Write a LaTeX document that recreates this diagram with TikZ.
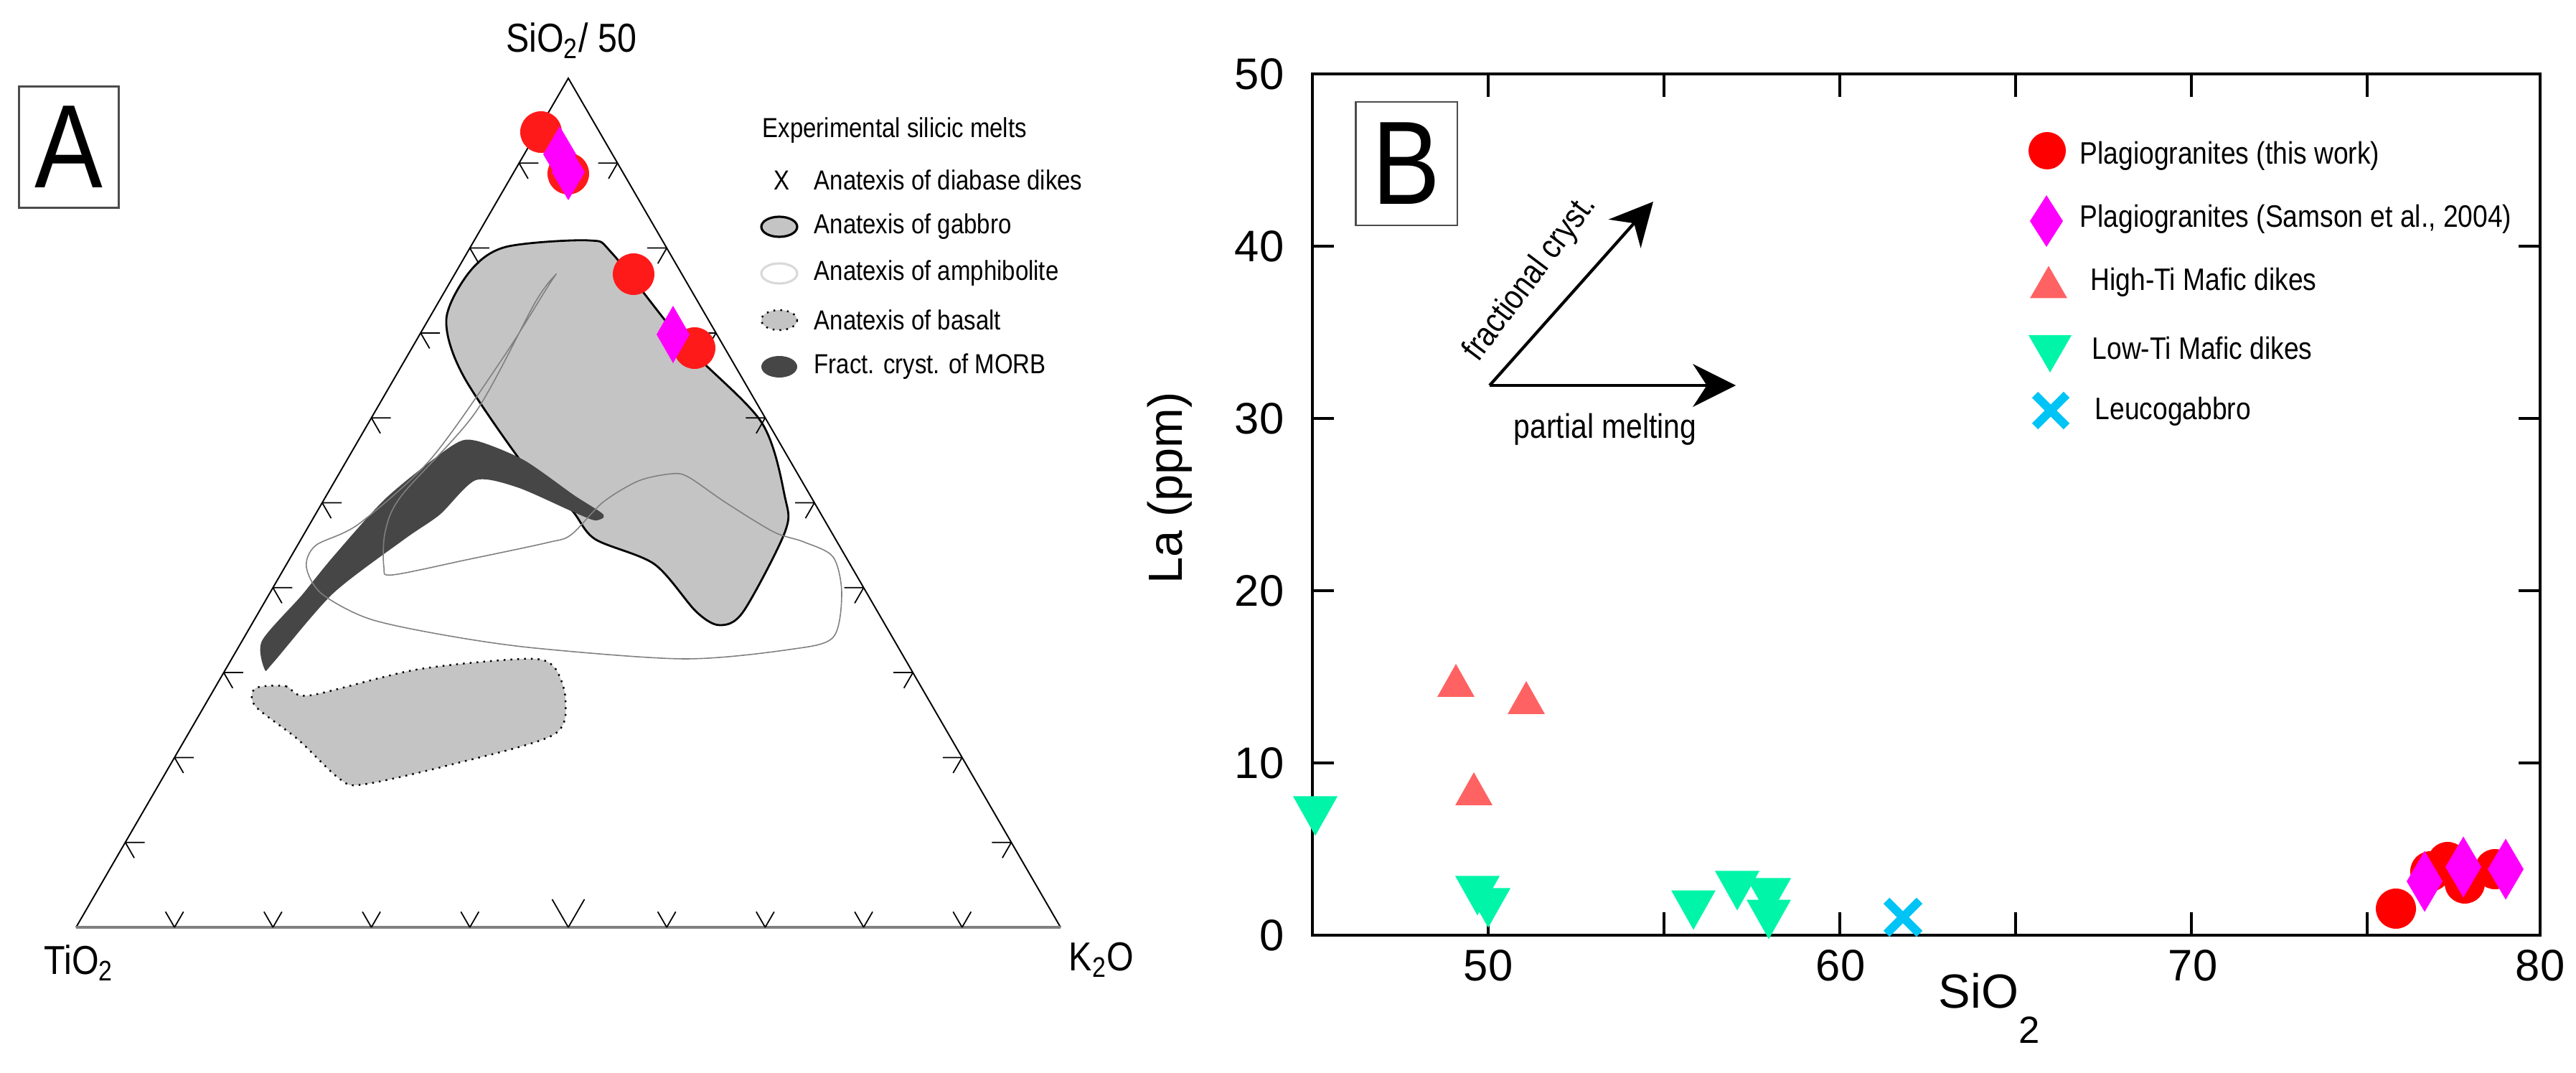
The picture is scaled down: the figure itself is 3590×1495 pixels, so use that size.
\documentclass[tikz,border=0pt]{standalone}
\usepackage{fontspec}
\setmainfont{Liberation Sans}
\newfontfamily\cnd{Liberation Sans}[FakeStretch=0.86]
\usetikzlibrary{arrows.meta,calc}
\definecolor{redA}{HTML}{FF1A1A}
\definecolor{redB}{HTML}{FF0000}
\definecolor{magB}{HTML}{FF00FF}
\definecolor{salB}{HTML}{FF6262}
\definecolor{grnB}{HTML}{00F5A8}
\definecolor{bluB}{HTML}{00C4F5}
\definecolor{gfill}{HTML}{C4C4C4}
\definecolor{dfill}{HTML}{464646}
\newcommand\mkCi[4]{\fill[#1] (#2,#3) circle (#4);}
\newcommand\mkDi[5]{\fill[#1] ({#2},{#3-#5/2}) -- ({#2+#4/2},{#3}) -- ({#2},{#3+#5/2}) -- ({#2-#4/2},{#3}) -- cycle;}
\newcommand\mkTU[4]{\fill[salB] ({#1},{#2-#4/2}) -- ({#1+#3/2},{#2+#4/2}) -- ({#1-#3/2},{#2+#4/2}) -- cycle;}
\newcommand\mkTD[4]{\fill[grnB] ({#1},{#2+#4/2}) -- ({#1+#3/2},{#2-#4/2}) -- ({#1-#3/2},{#2-#4/2}) -- cycle;}
\newcommand\mkXX[3]{\draw[bluB,line width=3.4pt] ({#1-#3/2},{#2-#3/2}) -- ({#1+#3/2},{#2+#3/2}) ({#1-#3/2},{#2+#3/2}) -- ({#1+#3/2},{#2-#3/2});}
\begin{document}
\begin{tikzpicture}[x=0.01cm,y=-0.01cm,
  lgA/.style={font=\cnd\fontsize{10.9}{12}\selectfont,anchor=west,inner sep=0},
  lgB/.style={font=\cnd\fontsize{12.3}{13}\selectfont,anchor=west,inner sep=0},
  tlab/.style={font=\fontsize{17.5}{19}\selectfont,inner sep=0},
  vlab/.style={font=\cnd\fontsize{16}{18}\selectfont,inner sep=0},
  big/.style={font=\cnd\fontsize{47}{50}\selectfont,inner sep=0},
  tk/.style={line width=0.5pt},
  ax/.style={line width=1.15pt}]
\path[use as bounding box] (0,0) rectangle (3590,1495);
% ---------- Panel A ----------
\coordinate (TA) at (106,1292);
\coordinate (TB) at (1478,1292);
\coordinate (TC) at (792,109);
% regions
\fill[gfill] plot[smooth cycle,tension=0.5] coordinates {(356,959)(398,956)(431,969)(580,933)(730,918)(771,928)(788,974)(771,1024)(630,1065)(506,1093)(473,1085)(415,1030)(356,984)};
\draw[line width=0.7pt,dotted] plot[smooth cycle,tension=0.5] coordinates {(356,959)(398,956)(431,969)(580,933)(730,918)(771,928)(788,974)(771,1024)(630,1065)(506,1093)(473,1085)(415,1030)(356,984)};
\filldraw[fill=gfill,draw=black,line width=0.8pt] plot[smooth cycle,tension=0.5] coordinates {(655,378)(705,344)(821,335)(854,354)(953,478)(1061,588)(1094,693)(1094,741)(1036,852)(1003,871)(970,852)(912,786)(829,751)(796,710)(746,669)(647,526)(622,445)};
\fill[dfill] plot[smooth cycle,tension=0.45] coordinates {(369,933)(365,893)(420,830)(464,776)(539,693)(630,621)(663,614)(730,641)(800,690)(841,717)(829,725)(796,712)(721,679)(663,669)(613,717)(564,751)(464,827)(381,923)};
\draw[gray,line width=0.45pt] plot[smooth cycle,tension=0.5] coordinates {(775,382)(763,400)(700,500)(600,640)(500,730)(440,760)(427,790)(448,827)(514,862)(620,885)(746,903)(953,918)(1100,905)(1161,888)(1173,827)(1161,776)(1120,755)(1078,741)(1011,700)(960,665)(937,660)(890,670)(840,700)(796,745)(763,756)(650,780)(547,801)(535,790)(537,740)(560,690)(663,574)(746,421)};
% triangle
\draw[line width=0.55pt] (TA) -- (TC) -- (TB);
\draw[gray,line width=1.1pt] (TA) -- (TB);
\foreach \t in {1,...,9}{
  \pgfmathsetmacro\L{(\t==5)?45:25}
  \draw[tk] ($(TA)!\t/10!(TC)$) -- ++(27,0) ($(TA)!\t/10!(TC)$) -- ++(12.5,21.6);
  \draw[tk] ($(TB)!\t/10!(TC)$) -- ++(-27,0) ($(TB)!\t/10!(TC)$) -- ++(-12.5,21.6);
  \draw[tk] ($(TA)!\t/10!(TB)$) -- ++({-0.5*\L},{-0.866*\L}) ($(TA)!\t/10!(TB)$) -- ++({0.5*\L},{-0.866*\L});
}
% data A
\mkCi{redA}{754}{184}{29}
\mkCi{redA}{792}{242}{29}
\mkDi{magB}{780}{215}{46}{78}
\mkDi{magB}{792}{240}{46}{78}
\mkCi{redA}{883}{382}{29}
\mkCi{redA}{968}{485}{29}
\mkDi{magB}{938}{466}{46}{80}
% labels A
\node[vlab] (sio) at (796,57) {SiO\textsubscript{2}/ 50};
\node[vlab] (tio) at (110,1342) {TiO\textsubscript{2}};
\node[vlab] (k2o) at (1535,1337) {K\textsubscript{2}O};
\node[draw=black!70,line width=0.6pt,minimum width=139*0.2845pt,minimum height=169*0.2845pt,inner sep=0] (boxA) at (96,205) {};
\node[big] (lA) at (96,205) {A};
% legend A
\node[lgA] (lg0) at (1062,182) {Experimental silicic melts};
\node[font=\cnd\fontsize{10.9}{12}\selectfont,inner sep=0] (lx) at (1089,251) {X};
\node[lgA] (lg1) at (1134,251) {Anatexis of diabase dikes};
\filldraw[fill=gfill,draw=black,line width=0.9pt] (1086,316) ellipse (25 and 14);
\node[lgA] (lg2) at (1134,316) {Anatexis of gabbro};
\draw[black!15,line width=0.9pt] (1086,381) ellipse (25 and 14);
\node[lgA] (lg3) at (1134,381) {Anatexis of amphibolite};
\filldraw[fill=gfill,draw=black,line width=0.7pt,dotted] (1086,446) ellipse (25 and 14);
\node[lgA] (lg4) at (1134,446) {Anatexis of basalt};
\fill[dfill] (1086,511) ellipse (25 and 15);
\node[lgA] (lg5) at (1134,511) {Fract. cryst. of MORB};
% ---------- Panel B ----------
\draw[ax] (1829,103) rectangle (3540,1303);
\foreach \v in {50,55,...,75}{
  \draw[ax] ({1829+49*(\v-45)},1303) -- ++(0,-32);
  \draw[ax] ({1829+49*(\v-45)},103) -- ++(0,32);
}
\foreach \v in {10,20,30,40}{
  \draw[ax] (1829,{1303-24*\v}) -- ++(30,0);
  \draw[ax] (3540,{1303-24*\v}) -- ++(-30,0);
}
\foreach \v/\x in {50/2074,60/2565,70/3056,80/3540}{\node[tlab] at (\x,1345) {\v};}
\foreach \v in {0,10,...,50}{\node[tlab,anchor=east] at (1790,{1303-24*\v}) {\v};}
\node[font=\fontsize{19}{21}\selectfont,inner sep=0] (xl) at (2772,1405) {SiO\raisebox{-1.4ex}{\fontsize{15}{16}\selectfont 2}};
\node[font=\fontsize{19}{21}\selectfont,inner sep=0,rotate=90] (yl) at (1630,680) {La (ppm)};
\node[draw=black!70,line width=0.6pt,minimum width=141*0.2845pt,minimum height=172*0.2845pt,inner sep=0] (boxB) at (1960,228) {};
\node[big] (lB) at (1960,228) {B};
% arrows
\coordinate (o) at (2076,537);
\coordinate (pm) at (2419,537);
\coordinate (fc) at (2304,281);
\draw[line width=1.2pt,-{Stealth[length=17pt,width=17pt]}] (o) -- (pm);
\draw[line width=1.2pt,-{Stealth[length=17pt,width=17pt]}] (o) -- (fc);
\node[font=\cnd\fontsize{13.5}{15}\selectfont,inner sep=0] (pml) at (2237,598) {partial melting};
\node[font=\cnd\fontsize{13.5}{15}\selectfont,inner sep=0,rotate=53] (fcl) at (2133,388) {fractional cryst.};
% data B
\foreach \x/\y in {2029/948,2127/972,2054/1099}{\mkTU{\x}{\y}{52}{46}}
\foreach \x/\y in {1833/1137,2059/1248,2074/1265,2360/1268,2421/1241,2465/1251,2465/1281}{\mkTD{\x}{\y}{62}{55}}
\mkXX{2652}{1278}{46}
\mkCi{redB}{3339}{1266}{28}
\mkCi{redB}{3387}{1214}{28}
\mkCi{redB}{3411}{1201}{28}
\mkCi{redB}{3435}{1231}{28}
\mkCi{redB}{3477}{1211}{28}
\mkDi{magB}{3379}{1228}{50}{85}
\mkDi{magB}{3433}{1208}{50}{85}
\mkDi{magB}{3492}{1211}{50}{85}
% legend B
\mkCi{redB}{2853}{210}{26}
\node[lgB] (b1) at (2898,217) {Plagiogranites (this work)};
\mkDi{magB}{2852}{308}{46}{72}
\node[lgB] (b2) at (2898,305) {Plagiogranites (Samson et al., 2004)};
\mkTU{2855}{393}{52}{45}
\node[lgB] (b3) at (2913,393) {High-Ti Mafic dikes};
\mkTD{2857}{493}{60}{52}
\node[lgB] (b4) at (2915,485) {Low-Ti Mafic dikes};
\mkXX{2858}{572}{44}
\node[lgB] (b5) at (2919,573) {Leucogabbro};
\end{tikzpicture}
\end{document}
